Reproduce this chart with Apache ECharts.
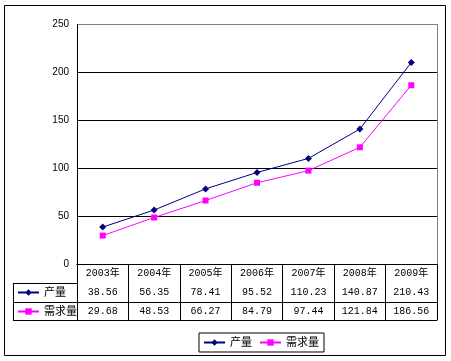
<!DOCTYPE html>
<html>
<head>
<meta charset="utf-8">
<script src="https://cdn.jsdelivr.net/npm/echarts@6/dist/echarts.min.js"></script>
<style>
html,body{margin:0;padding:0;background:#fff;}
#c{width:451px;height:361px;}
</style>
</head>
<body>
<div id="c"></div>
<script>
const years = ['2003年', '2004年', '2005年', '2006年', '2007年', '2008年', '2009年'];
const seriesNames = ['产量', '需求量'];
const production = [38.56, 56.35, 78.41, 95.52, 110.23, 140.87, 210.43];
const demand = [29.68, 48.53, 66.27, 84.79, 97.44, 121.84, 186.56];
const yMin = 0, yMax = 250, yStep = 50;

const colors = ['#000080', '#FF00FF'];
const monoFont = "'Liberation Mono', 'Noto Sans CJK SC', monospace";
const cjkFont = "'Liberation Sans', 'Noto Sans CJK SC', sans-serif";

const chart = echarts.init(document.getElementById('c'), null, {renderer: 'canvas'});

function tableAxis(data, offset, showLabel) {
  return {
    type: 'category', data: data, position: 'bottom', offset: offset,
    boundaryGap: true,
    axisLine: {show: true, lineStyle: {color: '#000', width: 1}},
    axisTick: {show: false},
    axisLabel: {show: showLabel, interval: 0, margin: 4.5, fontSize: 10, color: '#000', fontFamily: monoFont},
    splitLine: {show: false}
  };
}

const option = {
  animation: false,
  backgroundColor: '#fff',
  color: colors,
  grid: {left: 77, right: 14, top: 24.5, bottom: 97},
  xAxis: [
    {
      type: 'category', data: years, position: 'bottom', boundaryGap: true,
      axisLine: {show: true, lineStyle: {color: '#000', width: 1}},
      axisTick: {show: true, interval: 0, length: 56, lineStyle: {color: '#000', width: 1}},
      axisLabel: {interval: 0, margin: 4.5, fontSize: 10, color: '#000', fontFamily: monoFont},
      splitLine: {show: false}
    },
    tableAxis(production.map(v => v.toFixed(2)), 19, true),
    tableAxis(demand.map(v => v.toFixed(2)), 38, true),
    tableAxis(years, 56, false)
  ],
  yAxis: [
    {
      type: 'value', min: yMin, max: yMax, interval: yStep,
      axisLine: {show: true, lineStyle: {color: '#000', width: 1}},
      axisTick: {show: false},
      axisLabel: {margin: 8, fontSize: 10, color: '#000', fontFamily: "'Liberation Sans', Arial, sans-serif"},
      splitLine: {show: true, lineStyle: {color: ['#000', '#000', '#000', '#000', '#000', '#808080'], width: 1}}
    },
    {
      type: 'value', min: yMin, max: yMax, interval: yStep, position: 'right',
      axisLine: {show: true, lineStyle: {color: '#808080', width: 1}},
      axisTick: {show: false}, axisLabel: {show: false}, splitLine: {show: false}
    }
  ],
  legend: [
    {
      data: seriesNames, orient: 'horizontal', left: 199, top: 333,
      padding: [4, 5, 4, 4], itemWidth: 21, itemHeight: 8, itemGap: 7,
      borderColor: '#000', borderWidth: 1, backgroundColor: '#fff',
      textStyle: {fontSize: 11, color: '#000', fontFamily: cjkFont}
    },
    {
      data: seriesNames, orient: 'vertical', left: 17, top: 287,
      padding: 0, itemWidth: 21, itemHeight: 8, itemGap: 8,
      textStyle: {fontSize: 11, lineHeight: 11, color: '#000', fontFamily: cjkFont}
    }
  ],
  series: [
    {
      name: seriesNames[0], type: 'line', data: production,
      symbol: 'diamond', symbolSize: 7,
      lineStyle: {color: colors[0], width: 1},
      itemStyle: {color: colors[0]}
    },
    {
      name: seriesNames[1], type: 'line', data: demand,
      symbol: 'rect', symbolSize: 6,
      lineStyle: {color: colors[1], width: 1},
      itemStyle: {color: colors[1]}
    }
  ],
  graphic: [
    {type: 'rect', shape: {x: 4.5, y: 5.5, width: 441, height: 350}, style: {fill: 'none', stroke: '#000', lineWidth: 1}, silent: true},
    {type: 'line', shape: {x1: 13, y1: 283.5, x2: 77, y2: 283.5}, style: {stroke: '#000', lineWidth: 1}, silent: true},
    {type: 'line', shape: {x1: 13, y1: 302.5, x2: 77, y2: 302.5}, style: {stroke: '#000', lineWidth: 1}, silent: true},
    {type: 'line', shape: {x1: 13, y1: 320.5, x2: 77, y2: 320.5}, style: {stroke: '#000', lineWidth: 1}, silent: true},
    {type: 'line', shape: {x1: 13.5, y1: 283, x2: 13.5, y2: 321}, style: {stroke: '#000', lineWidth: 1}, silent: true}
  ]
};
chart.setOption(option);
</script>
</body>
</html>
